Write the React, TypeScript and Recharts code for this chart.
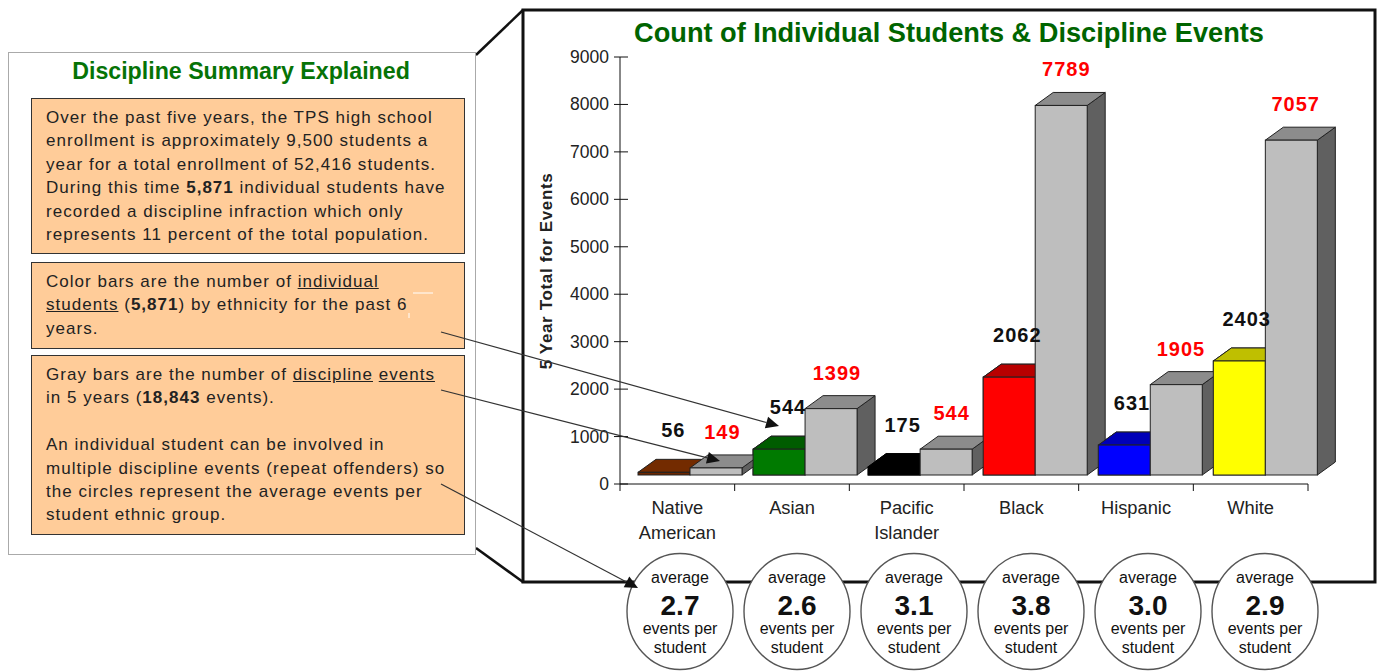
import React from "react"
import {
  ComposedChart,
  Bar,
  Line,
  LabelList,
  XAxis,
  YAxis,
} from "recharts"

const groups = ["Native American", "Asian", "Pacific Islander", "Black", "Hispanic", "White"]
const students = [56, 544, 175, 2062, 631, 2403]
const events = [149, 1399, 544, 7789, 1905, 7057]
const averages = ["2.7", "2.6", "3.1", "3.8", "3.0", "2.9"]
const yTicks = [0, 1000, 2000, 3000, 4000, 5000, 6000, 7000, 8000, 9000]

const frontColors = ["#6b2600", "#007a00", "#000000", "#ff0000", "#0000ff", "#ffff00"]
const topColors = ["#732b00", "#005c00", "#000000", "#b80000", "#0000b8", "#bfbf00"]

const data = groups.map((name, i) => ({ name, students: students[i], events: events[i] }))

const FONT = '"Liberation Sans", Arial, sans-serif'
const INK = "#111"
const AXIS_X = 620
const AXIS_Y = 484
const BAND = 688 / 6
const BAR_W = 52
const DEPTH_X = 18
const DEPTH_Y = 13
const SHIFT_X = 13
const SHIFT_Y = -9

function shiftFor(index: number) {
  return SHIFT_X + index * 0.4
}

function Block({ x, top, w, base, front, roof, side }: any) {
  return (
    <g stroke={front === "#000000" ? "#000" : "#222"} strokeWidth={1}>
      {side && (
        <polygon
          points={`${x + w},${top} ${x + w + DEPTH_X},${top - DEPTH_Y} ${x + w + DEPTH_X},${base - DEPTH_Y} ${x + w},${base}`}
          fill={side}
        />
      )}
      <polygon
        points={`${x},${top} ${x + DEPTH_X},${top - DEPTH_Y} ${x + w + DEPTH_X},${top - DEPTH_Y} ${x + w},${top}`}
        fill={roof}
      />
      <rect x={x} y={top} width={w} height={base - top} fill={front} />
    </g>
  )
}

function StudentBar(props: any) {
  const { x, y, width, height, index } = props
  return (
    <Block
      x={x + shiftFor(index)}
      top={y + SHIFT_Y}
      w={width}
      base={y + height + SHIFT_Y}
      front={frontColors[index]}
      roof={topColors[index]}
    />
  )
}

// grey bars paint after the colour series, so the next group's colour bar is
// painted again here to sit in front of this bar's side face
function EventBar(props: any) {
  const { x, y, width, height, index, value } = props
  const v = Array.isArray(value) ? value[1] : value
  const perUnit = height / v
  const base = y + height + SHIFT_Y
  const next = index + 1
  return (
    <g>
      <Block
        x={x + shiftFor(index)}
        top={y + SHIFT_Y}
        w={width}
        base={base}
        front="#bebebe"
        roof="#8c8c8c"
        side="#606060"
      />
      {next < groups.length && (
        <Block
          x={x - width + BAND + shiftFor(next)}
          top={base - students[next] * perUnit}
          w={width}
          base={base}
          front={frontColors[next]}
          roof={topColors[next]}
        />
      )}
    </g>
  )
}

function YTick({ y, payload }: any) {
  return (
    <g>
      <line x1={AXIS_X - 6} x2={AXIS_X + 8} y1={y} y2={y} stroke={INK} />
      <text x={AXIS_X - 11} y={y + 6} textAnchor="end" fontSize={17.5} fill="#222" fontFamily={FONT}>
        {payload.value}
      </text>
    </g>
  )
}

function XTick({ x, payload, index }: any) {
  const words = String(payload.value).split(" ")
  return (
    <g>
      {index === 0 && <line x1={AXIS_X} x2={AXIS_X} y1={AXIS_Y} y2={AXIS_Y + 7} stroke={INK} />}
      <line x1={x + BAND / 2} x2={x + BAND / 2} y1={AXIS_Y} y2={AXIS_Y + 7} stroke={INK} />
      {words.map((w, i) => (
        <text
          key={w}
          x={x}
          y={AXIS_Y + 30 + i * 25}
          textAnchor="middle"
          fontSize={18.3}
          fill="#222"
          fontFamily={FONT}
        >
          {w}
        </text>
      ))}
    </g>
  )
}

function valueLabel(dx: number, dy: number, color: string) {
  return (props: any) => (
    <text
      x={props.x + dx}
      y={props.y + dy}
      textAnchor="middle"
      fontSize={20}
      fontWeight="bold"
      letterSpacing={1}
      fill={color}
      fontFamily={FONT}
    >
      {props.value}
    </text>
  )
}

const textBox: React.CSSProperties = {
  position: "absolute",
  left: 31,
  width: 432,
  background: "#ffcc99",
  border: "1.5px solid #333",
  boxSizing: "content-box",
  color: "#222",
  fontFamily: FONT,
  fontSize: 17,
  lineHeight: "23.4px",
  letterSpacing: "1.02px",
  whiteSpace: "nowrap",
}

function Arrow({ x1, y1, x2, y2 }: any) {
  const a = Math.atan2(y2 - y1, x2 - x1)
  const len = 13
  const wing = 6
  const bx = x2 - len * Math.cos(a)
  const by = y2 - len * Math.sin(a)
  const pts = [
    [x2, y2],
    [bx - wing * Math.sin(a), by + wing * Math.cos(a)],
    [bx + wing * Math.sin(a), by - wing * Math.cos(a)],
  ]
  return (
    <g>
      <line x1={x1} y1={y1} x2={bx} y2={by} stroke="#333" strokeWidth={1.2} />
      <polygon points={pts.map((p) => p.join(",")).join(" ")} fill="#111" />
    </g>
  )
}

export default function App() {
  return (
    <div style={{ position: "absolute", left: 0, top: 0, width: 1381, height: 671, overflow: "hidden", background: "#fff" }}>
      {/* chart frame and the two perspective edges back to the panel */}
      <svg width={1381} height={671} style={{ position: "absolute", left: 0, top: 0 }}>
        <rect x={523} y={10} width={852} height={572} fill="#fff" stroke="#111" strokeWidth={3} />
        <line x1={476} y1={55} x2={523} y2={10} stroke="#111" strokeWidth={2.5} />
        <line x1={476} y1={548} x2={523} y2={582} stroke="#111" strokeWidth={2.5} />
      </svg>

      <div style={{ position: "absolute", left: 523, width: 852, top: 17, textAlign: "center", fontFamily: FONT, fontWeight: "bold", fontSize: 27.2, color: "#006400", whiteSpace: "nowrap" }}>
        Count of Individual Students &amp; Discipline Events
      </div>

      <div style={{ position: "absolute", left: 0, top: 0 }}>
        <ComposedChart
          width={1381}
          height={671}
          data={data}
          margin={{ top: 57, left: 560, right: 73, bottom: 127 }}
          barGap={0}
          barSize={BAR_W}
        >
          <XAxis
            dataKey="name"
            height={60}
            interval={0}
            tick={<XTick />}
            tickLine={false}
            axisLine={{ stroke: INK }}
          />
          <YAxis
            width={60}
            domain={[0, 9000]}
            ticks={yTicks}
            interval={0}
            tick={<YTick />}
            tickLine={false}
            axisLine={{ stroke: INK }}
          />
          <Bar dataKey="students" shape={<StudentBar />} isAnimationActive={false} />
          <Bar dataKey="events" shape={<EventBar />} isAnimationActive={false} />
          <Line dataKey="students" stroke="none" dot={false} activeDot={false} isAnimationActive={false}>
            <LabelList content={valueLabel(-4, -44, "#111")} />
          </Line>
          <Line dataKey="events" stroke="none" dot={false} activeDot={false} isAnimationActive={false}>
            <LabelList content={valueLabel(45, -38, "#ff0000")} />
          </Line>
        </ComposedChart>
      </div>

      <svg width={1381} height={671} style={{ position: "absolute", left: 0, top: 0, pointerEvents: "none" }}>
        <text
          transform="translate(552 271) rotate(-90)"
          textAnchor="middle"
          fontFamily={FONT}
          fontWeight="bold"
          fontSize={17}
          letterSpacing={0.65}
          fill="#222"
        >
          5 Year Total for Events
        </text>
      </svg>

      {/* explanation panel */}
      <div style={{ position: "absolute", left: 8, top: 52, width: 466, height: 501, border: "1.5px solid #aaaaaa", background: "#fff" }} />
      <div style={{ position: "absolute", left: 7, width: 468, top: 58, textAlign: "center", fontFamily: FONT, fontWeight: "bold", fontSize: 23.2, color: "#067306", whiteSpace: "nowrap" }}>
        Discipline Summary Explained
      </div>
      <div style={{ ...textBox, top: 98, height: 154 }}>
        <div style={{ padding: "7px 0 0 14px" }}>
          Over the past five years, the TPS high school<br />
          enrollment is approximately 9,500 students a<br />
          year for a total enrollment of 52,416 students.<br />
          During this time <b>5,871</b> individual students have<br />
          recorded a discipline infraction which only<br />
          represents 11 percent of the total population.
        </div>
      </div>
      <div style={{ ...textBox, top: 262, height: 85 }}>
        <div style={{ padding: "7px 0 0 14px" }}>
          Color bars are the number of <u>individual</u><br />
          <u>students</u> (<b>5,871</b>) by ethnicity for the past 6<br />
          years.
        </div>
      </div>
      <div style={{ ...textBox, top: 355, height: 178 }}>
        <div style={{ padding: "7px 0 0 14px" }}>
          Gray bars are the number of <u>discipline</u> <u>events</u><br />
          in 5 years (<b>18,843</b> events).<br />
          <br />
          An individual student can be involved in<br />
          multiple discipline events (repeat offenders) so<br />
          the circles represent the average events per<br />
          student ethnic group.
        </div>
      </div>

      <svg width={1381} height={671} style={{ position: "absolute", left: 0, top: 0, pointerEvents: "none" }}>
        <line x1={413} x2={433} y1={293} y2={293} stroke="#fff" />
        <line x1={409} x2={409} y1={313} y2={318} stroke="#fff" />

        {averages.map((avg, i) => {
          const cx = 680 + i * 117
          return (
            <g key={i} fontFamily={FONT} textAnchor="middle" fill="#111">
              <ellipse cx={cx} cy={611.5} rx={53} ry={58} fill="#fff" stroke="#555" strokeWidth={1.4} />
              <text x={cx} y={583} fontSize={16}>average</text>
              <text x={cx} y={615} fontSize={28} fontWeight="bold">{avg}</text>
              <text x={cx} y={634} fontSize={16}>events per</text>
              <text x={cx} y={653} fontSize={16}>student</text>
            </g>
          )
        })}

        <Arrow x1={441} y1={332} x2={779} y2={426} />
        <Arrow x1={441} y1={390} x2={720} y2={461} />
        <Arrow x1={441} y1={484} x2={638} y2={588} />
      </svg>
    </div>
  )
}
